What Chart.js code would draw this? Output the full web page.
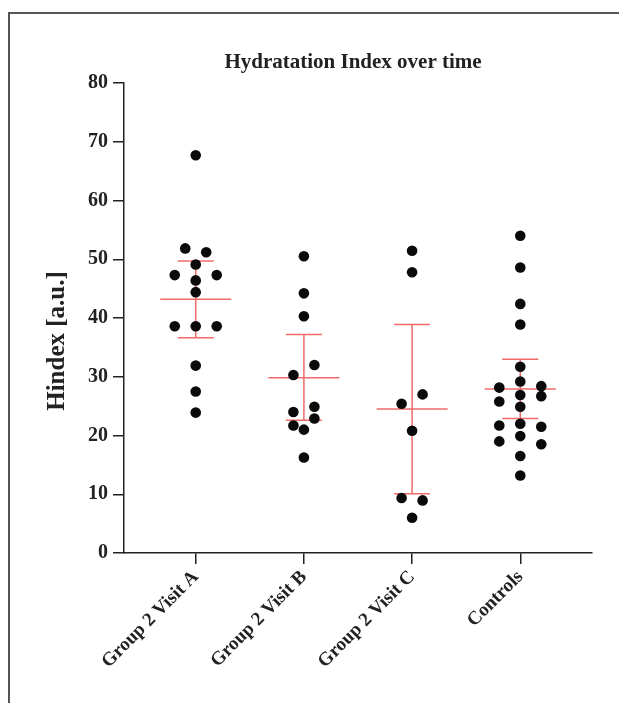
<!DOCTYPE html>
<html>
<head>
<meta charset="utf-8">
<script src="https://cdn.jsdelivr.net/npm/chart.js@4"></script>
<style>
  html, body { margin: 0; padding: 0; background: #fff; }
  #wrap { width: 619px; height: 703px; position: relative; }
</style>
</head>
<body>
<div id="wrap"><canvas id="hydrationChart"></canvas></div>
<script>
// values (a.u.)
const categories = ['Group 2 Visit A', 'Group 2 Visit B', 'Group 2 Visit C', 'Controls'];
const visitA = [67.7, 51.85, 51.2, 49.1, 46.4, 47.3, 47.3, 44.4, 38.6, 38.6, 38.6, 31.9, 27.5, 23.9];
const visitB = [50.5, 44.2, 40.3, 30.3, 32.0, 24.0, 24.9, 21.7, 22.9, 21.0, 16.25];
const visitC = [51.45, 47.8, 25.4, 27.0, 20.8, 9.35, 8.95, 6.0];
const controls = [54.0, 48.6, 42.4, 38.9, 31.7, 29.2, 28.15, 28.4, 26.9, 25.8, 26.7, 24.9,
                  22.0, 21.7, 21.5, 19.9, 19.0, 18.5, 16.5, 13.2];
const meanValues = [43.2, 29.85, 24.5, 27.9];
const upperValues = [49.7, 37.2, 38.9, 33.0];
const lowerValues = [36.65, 22.6, 10.1, 22.9];

const groups = [visitA, visitB, visitC, controls];

const FONT = "'Liberation Serif', 'Times New Roman', serif";
const INK = '#222';
const RED = 'rgba(240, 90, 90, 0.9)';
const SLOT = 0.194;     // horizontal spacing of dots in a row (category units)
const ROW_GAP = 1.75;   // values closer than this share a row
const MEAN_HALF = 0.328;
const CAP_HALF = 0.1665;

// simple swarm: bin close values into rows, spread each row around the category
function swarm(vals) {
  const idx = vals.map((v, i) => i).sort((a, b) => vals[b] - vals[a] || a - b);
  const rows = [];
  let cur = [];
  let start = null;
  idx.forEach(i => {
    if (cur.length && vals[start] - vals[i] < ROW_GAP) {
      cur.push(i);
    } else {
      if (cur.length) rows.push(cur);
      cur = [i];
      start = i;
    }
  });
  if (cur.length) rows.push(cur);
  const off = new Array(vals.length).fill(0);
  rows.forEach(row => {
    row.sort((a, b) => a - b);
    const n = row.length;
    row.forEach((p, k) => {
      let s;
      if (n % 2) s = k === 0 ? 0 : (k % 2 ? -1 : 1) * Math.ceil(k / 2);
      else s = (k % 2 ? 1 : -1) * (Math.floor(k / 2) + 0.5);
      off[p] = s * SLOT;
    });
  });
  return off;
}

const dots = [];
groups.forEach((vals, g) => {
  const off = swarm(vals);
  vals.forEach((v, k) => dots.push({ x: g + off[k], y: v }));
});

// mean line + caps + whisker, segments split by null gaps
const bars = [];
meanValues.forEach((m, i) => {
  bars.push({ x: i - MEAN_HALF, y: m }, { x: i + MEAN_HALF, y: m }, { x: i, y: null });
  bars.push({ x: i - CAP_HALF, y: upperValues[i] }, { x: i + CAP_HALF, y: upperValues[i] }, { x: i, y: null });
  bars.push({ x: i - CAP_HALF, y: lowerValues[i] }, { x: i + CAP_HALF, y: lowerValues[i] }, { x: i, y: null });
  bars.push({ x: i, y: lowerValues[i] }, { x: i, y: upperValues[i] }, { x: i, y: null });
});

const frameAndTitles = {
  id: 'frameAndTitles',
  beforeDraw(chart) {
    const ctx = chart.ctx;
    ctx.save();
    ctx.strokeStyle = '#555';
    ctx.lineWidth = 2;
    ctx.beginPath();
    ctx.moveTo(9, 703);
    ctx.lineTo(9, 13);
    ctx.lineTo(619, 13);
    ctx.stroke();
    ctx.restore();
  },
  afterDraw(chart) {
    const ctx = chart.ctx;
    const area = chart.chartArea;
    ctx.save();
    ctx.fillStyle = INK;
    ctx.font = 'bold 21px ' + FONT;
    ctx.textAlign = 'center';
    ctx.textBaseline = 'alphabetic';
    ctx.fillText('Hydratation Index over time', (area.left + area.right) / 2 - 5, 68);
    ctx.translate(58, 341);
    ctx.rotate(-Math.PI / 2);
    ctx.font = 'bold 25px ' + FONT;
    ctx.textBaseline = 'middle';
    ctx.fillText('Hindex [a.u.]', 0, 0);
    ctx.restore();
  }
};

const ctx = document.getElementById('hydrationChart').getContext('2d');
new Chart(ctx, {
  type: 'scatter',
  data: {
    datasets: [
      {
        label: 'Hindex',
        data: dots,
        backgroundColor: '#0a0a0a',
        borderWidth: 0,
        pointRadius: 5.3,
        pointHoverRadius: 5.3,
        order: 1
      },
      {
        label: 'mean',
        data: bars,
        showLine: true,
        spanGaps: false,
        borderColor: RED,
        borderWidth: 1.5,
        pointRadius: 0,
        order: 2
      }
    ]
  },
  options: {
    responsive: true,
    maintainAspectRatio: false,
    animation: false,
    layout: { padding: { top: 83, right: 27, bottom: 0, left: 0 } },
    plugins: {
      legend: { display: false },
      tooltip: { enabled: false },
      title: { display: false }
    },
    scales: {
      x: {
        type: 'linear',
        min: -0.663,
        max: 3.663,
        afterBuildTicks: scale => { scale.ticks = categories.map((c, i) => ({ value: i })); },
        afterFit: scale => { scale.height = 150; },
        border: { display: true, color: INK, width: 1.5 },
        grid: { drawOnChartArea: false, drawTicks: true, tickLength: 11, color: INK, lineWidth: 1.5 },
        ticks: {
          autoSkip: false,
          minRotation: 45,
          maxRotation: 45,
          padding: 2,
          color: INK,
          font: { family: FONT, size: 19, weight: 'bold' },
          callback: v => categories[v]
        }
      },
      y: {
        min: 0,
        max: 80,
        afterFit: scale => { scale.width = 124; },
        border: { display: true, color: INK, width: 1.5 },
        grid: { drawOnChartArea: false, drawTicks: true, tickLength: 11, color: INK, lineWidth: 1.5 },
        ticks: {
          stepSize: 10,
          padding: 5,
          color: INK,
          font: { family: FONT, size: 20, weight: 'bold' }
        }
      }
    }
  },
  plugins: [frameAndTitles]
});
</script>
</body>
</html>
